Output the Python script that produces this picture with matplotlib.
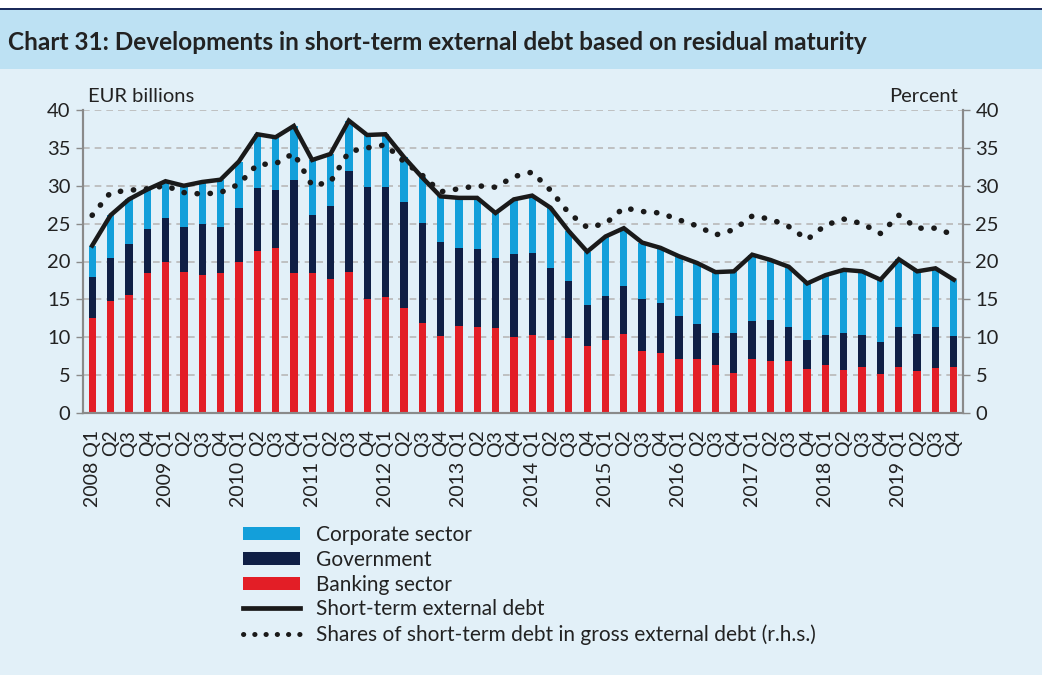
import numpy as np
import matplotlib.pyplot as plt
from matplotlib.patches import Rectangle, Patch
from matplotlib.lines import Line2D

plt.rcParams['font.family'] = ['Lato', 'DejaVu Sans']

years = list(range(2008, 2020))
quarters = ['Q1', 'Q2', 'Q3', 'Q4']
labels = []
for y in years:
    for q in quarters:
        labels.append(f'{y} {q}' if q == 'Q1' else q)

banking = [12.6, 14.8, 15.6, 18.5, 19.9, 18.6, 18.2, 18.5,
           19.9, 21.4, 21.8, 18.5, 18.5, 17.7, 18.6, 15.0,
           15.3, 13.8, 11.9, 10.1, 11.5, 11.4, 11.2, 10.0,
           10.3, 9.6, 9.9, 8.9, 9.7, 10.4, 8.2, 7.9,
           7.1, 7.1, 6.3, 5.3, 7.1, 6.8, 6.8, 5.8,
           6.3, 5.7, 6.1, 5.1, 6.1, 5.5, 6.0, 6.1]
government = [5.4, 5.7, 6.7, 5.8, 5.8, 6.0, 6.7, 6.1,
              7.1, 8.3, 7.6, 12.3, 7.7, 9.6, 13.4, 14.9,
              14.6, 14.1, 13.2, 12.5, 10.3, 10.3, 9.2, 11.0,
              10.8, 9.6, 7.5, 5.3, 5.8, 6.4, 6.8, 6.6,
              5.7, 4.6, 4.3, 5.2, 5.1, 5.5, 4.5, 3.8,
              4.0, 4.8, 4.2, 4.3, 5.3, 4.9, 5.3, 4.0]
corporate = [4.1, 5.6, 5.9, 5.2, 4.9, 5.4, 5.6, 6.2,
             6.2, 7.1, 7.0, 7.1, 7.2, 6.9, 6.6, 6.8,
             6.9, 5.9, 6.0, 6.0, 6.6, 6.7, 6.0, 7.2,
             7.6, 7.9, 6.6, 7.1, 7.8, 7.6, 7.5, 7.3,
             7.9, 8.1, 8.0, 8.2, 8.7, 7.9, 8.0, 7.5,
             7.9, 8.4, 8.4, 8.2, 8.9, 8.3, 7.8, 7.5]
share = [26.1, 29.1, 29.4, 29.6, 30.0, 29.1, 28.9, 29.1,
         30.2, 32.8, 32.9, 34.3, 30.0, 30.5, 34.5, 35.0,
         35.4, 33.2, 31.4, 29.2, 29.6, 30.0, 29.8, 31.2,
         31.8, 29.4, 26.4, 24.5, 25.0, 27.1, 26.6, 26.4,
         25.5, 24.7, 23.5, 24.2, 26.0, 25.6, 24.6, 22.9,
         24.8, 25.6, 25.0, 23.7, 26.1, 24.4, 24.4, 23.5]

c_corp = '#139fda'
c_gov = '#0f1f45'
c_bank = '#e31e26'
bg = '#e2f0f8'

banking = np.array(banking)
government = np.array(government)
corporate = np.array(corporate)
total = banking + government + corporate
x = np.arange(len(labels))

fig = plt.figure(figsize=(10.42, 6.75), dpi=100)
fig.patch.set_facecolor(bg)
fig.patches.append(Rectangle((0, 1 - 8 / 675), 1, 8 / 675, transform=fig.transFigure,
                             facecolor='white', edgecolor='none', zorder=0))
fig.patches.append(Rectangle((0, 1 - 10 / 675), 1, 2.5 / 675, transform=fig.transFigure,
                             facecolor='#1b2a5a', edgecolor='none', zorder=1))
fig.patches.append(Rectangle((0, 1 - 69 / 675), 1, 59 / 675, transform=fig.transFigure,
                             facecolor='#bde1f3', edgecolor='none', zorder=0))
fig.text(8 / 1042, 1 - 42 / 675, 'Chart 31: Developments in short-term external debt based on residual maturity',
         fontsize=17.6, fontweight='bold', color='#222222', va='center', ha='left')

ax = fig.add_axes([83 / 1042, 1 - 413 / 675, 880 / 1042, 303 / 675])
ax.set_facecolor(bg)
w = 0.4
ax.bar(x, banking, width=w, color=c_bank, zorder=2)
ax.bar(x, government, width=w, bottom=banking, color=c_gov, zorder=2)
ax.bar(x, corporate, width=w, bottom=banking + government, color=c_corp, zorder=2)
ax.plot(x, total, color='#1a1a1a', lw=3.2, zorder=4, solid_joinstyle='miter')

ax2 = ax.twinx()
ax2.plot(x, share, color='#1a1a1a', lw=4.0, linestyle=(0, (0.05, 2.3)),
         dash_capstyle='round', zorder=4)

for a in (ax, ax2):
    a.set_ylim(0, 40)
    a.set_yticks(np.arange(0, 41, 5))
    a.set_xlim(-0.5, len(labels) - 0.5)
    a.tick_params(axis='y', labelsize=14.5, length=5, width=1, color='#8a8a8a',
                  labelcolor='#222222', pad=4)
    a.spines['top'].set_visible(False)
    for s in ('left', 'right', 'bottom'):
        a.spines[s].set_color('#8a8a8a')
        a.spines[s].set_linewidth(1.5)

ax.yaxis.grid(True, color='#b8b8b8', lw=1.2, linestyle=(0, (4, 3)), zorder=0)
ax.set_axisbelow(True)
ax.set_xticks(x)
ax.set_xticklabels(labels, rotation=90, fontsize=14, color='#222222')
ax.tick_params(axis='x', length=0, pad=12)

fig.text(88 / 1042, 1 - 97 / 675, 'EUR billions', fontsize=14.5, color='#222222', va='center', ha='left')
fig.text(958 / 1042, 1 - 97 / 675, 'Percent', fontsize=14.5, color='#222222', va='center', ha='right')

handles = [Patch(facecolor=c_corp, label='Corporate sector'),
           Patch(facecolor=c_gov, label='Government'),
           Patch(facecolor=c_bank, label='Banking sector'),
           Line2D([], [], color='#1a1a1a', lw=3.4, label='Short-term external debt'),
           Line2D([], [], color='#1a1a1a', lw=3.6, linestyle=(0, (0.05, 2.2)), dash_capstyle='round',
                  label='Shares of short-term debt in gross external debt (r.h.s.)')]
fig.legend(handles=handles, loc='upper left', bbox_to_anchor=(243 / 1042, 1 - 525 / 675),
           frameon=False, fontsize=15, handlelength=2.75, handleheight=0.62,
           handletextpad=0.75, labelspacing=0.23, borderaxespad=0, borderpad=0,
           labelcolor='#222222')

fig.savefig('out.png', dpi=100, facecolor=bg)
